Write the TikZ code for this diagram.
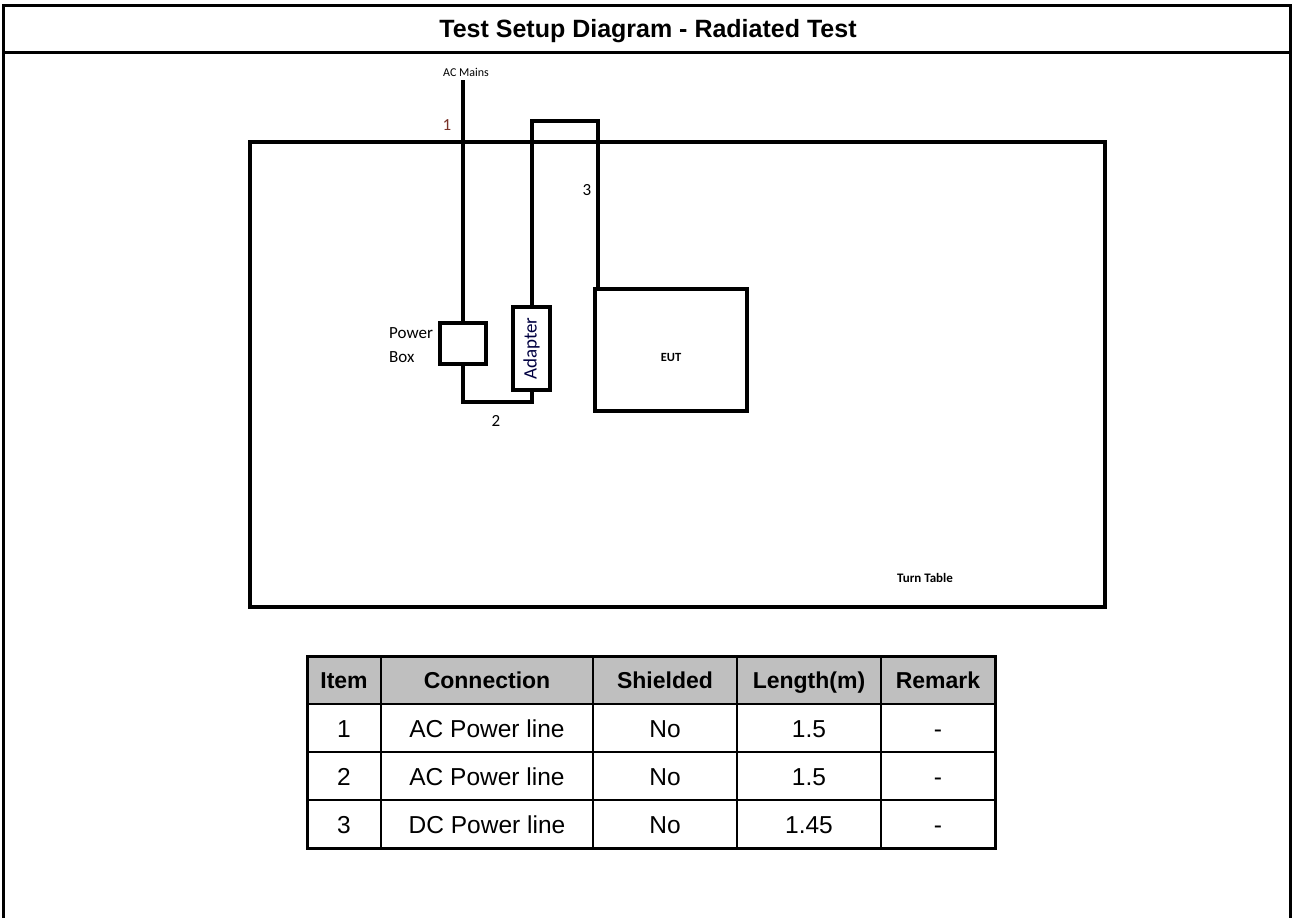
\documentclass[tikz,border=0pt]{standalone}
\usepackage{fontspec}
\setmainfont{Liberation Sans}
\newfontfamily\calfont{Carlito}
\begin{document}
\begin{tikzpicture}[x=1pt,y=-1pt,
  frame/.style={line width=3pt},
  wire/.style={line width=4pt},
  dev/.style={draw,line width=4pt,minimum width=#1,inner sep=0pt,outer sep=0pt},
  lbl/.style={font=\calfont\fontsize{17}{19}\selectfont,inner sep=0pt},
  cell/.style={font=\fontsize{24.5}{28}\selectfont,inner sep=0pt,anchor=base},
  head/.style={font=\bfseries\fontsize{23}{26}\selectfont,inner sep=0pt,anchor=base},
  tline/.style={line width=2pt},
  touter/.style={line width=3pt}]
\useasboundingbox (0,0) rectangle (1293,918);
% outer frame
\draw[frame] (3,918) -- (3,5) -- (1290,5) -- (1290,918);
\draw[frame] (3,52) -- (1290,52);
\node[font=\bfseries\fontsize{25}{28}\selectfont,inner sep=0pt,anchor=base] (title) at (648,37) {Test Setup Diagram - Radiated Test};
% turn table
\node[draw,line width=4pt,minimum width=855pt,minimum height=465pt,inner sep=0pt,outer sep=0pt] (tt) at (677.5,374.5) {};
\node[font=\calfont\bfseries\fontsize{13}{15}\selectfont,inner sep=0pt] (ttl) at (925,578) {Turn Table};
% devices
\node[dev=46pt,minimum height=41pt] (pb) at (463,343.5) {};
\node[dev=37pt,minimum height=83pt] (ad) at (531.5,348.5) {};
\node[rotate=90,font=\calfont\fontsize{19}{21}\selectfont,text=black!75!blue,inner sep=0pt] (adl) at (ad.center) {Adapter};
\node[dev=152pt,minimum height=122pt] (eut) at (671,350) {};
\node[font=\calfont\bfseries\fontsize{12.5}{14}\selectfont,inner sep=0pt] (eutl) at (671,357) {EUT};
\node[lbl,anchor=west] (pw) at (389,333) {Power};
\node[lbl,anchor=west] (bx) at (389,357) {Box};
% cables
\coordinate (ac) at (463,80);
\coordinate (c3) at (598,121);
\draw[wire] (ac) -- (pb.north);
\draw[wire] (pb.south) -- ++(0,38) coordinate (c2) -| (ad.south);
\draw[wire] (ad.north) |- (c3) -- (c3 |- eut.north);
\node[font=\calfont\fontsize{12}{14}\selectfont,inner sep=0pt] (acl) at (466,72) {AC Mains};
\node[lbl,text={rgb,255:red,120;green,50;blue,40}] (n1) at (447,125) {1};
\node[lbl] (n2) at (496,421) {2};
\node[lbl] (n3) at (587,190) {3};
% table
\fill[gray!50] (307,656) rectangle (995,704);
\foreach \y in {704,752,800} \draw[tline] (307,\y) -- (995,\y);
\foreach \x in {381,593,737,881} \draw[tline] (\x,656) -- (\x,848);
\draw[touter] (307,656) rectangle (995,848);
\node[head] (h1) at (344,688) {Item};
\node[head] (h2) at (487,688) {Connection};
\node[head] (h3) at (665,688) {Shielded};
\node[head] (h4) at (809,688) {Length(m)};
\node[head] (h5) at (938,688) {Remark};
\node[cell] (a1) at (344,737) {1};
\node[cell] (a2) at (487,737) {AC Power line};
\node[cell] (a3) at (665,737) {No};
\node[cell] (a4) at (809,737) {1.5};
\node[cell] (a5) at (938,737) {-};
\node[cell] (b1) at (344,785) {2};
\node[cell] (b2) at (487,785) {AC Power line};
\node[cell] (b3) at (665,785) {No};
\node[cell] (b4) at (809,785) {1.5};
\node[cell] (b5) at (938,785) {-};
\node[cell] (c1) at (344,833) {3};
\node[cell] (c2t) at (487,833) {DC Power line};
\node[cell] (c3t) at (665,833) {No};
\node[cell] (c4) at (809,833) {1.45};
\node[cell] (c5) at (938,833) {-};
\end{tikzpicture}
\end{document}
